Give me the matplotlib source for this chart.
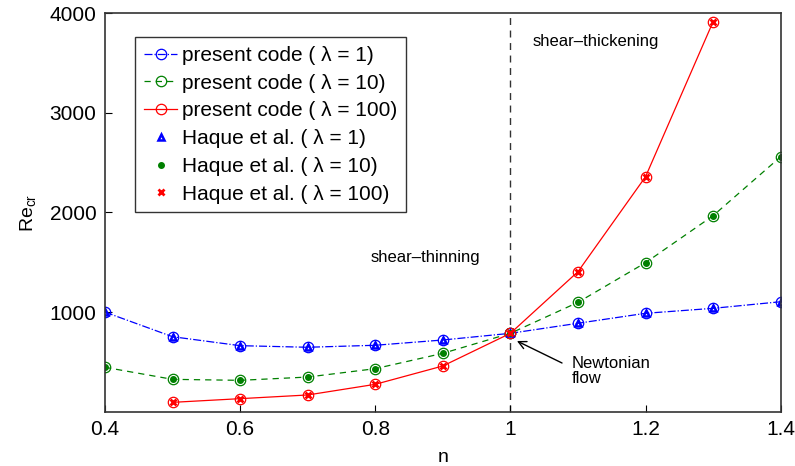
import matplotlib
matplotlib.use("Agg")
import matplotlib.pyplot as plt

plt.rcParams['font.family'] = ['Liberation Sans', 'DejaVu Sans']

n_vals = [0.4, 0.5, 0.6, 0.7, 0.8, 0.9, 1.0, 1.1, 1.2, 1.3, 1.4]
re_lam1 = [1000, 753, 663, 647, 667, 720, 787, 888, 988, 1038, 1104]
re_lam10 = [446, 325, 315, 348, 432, 586, 787, 1098, 1496, 1968, 2560]
n_lam100 = [0.5, 0.6, 0.7, 0.8, 0.9, 1.0, 1.1, 1.2, 1.3]
re_lam100 = [94, 131, 168, 275, 459, 787, 1406, 2359, 3916]

xticks = [0.4, 0.6, 0.8, 1.0, 1.2, 1.4]
xtick_labels = ['0.4', '0.6', '0.8', '1', '1.2', '1.4']
yticks = [1000, 2000, 3000, 4000]

fig = plt.figure(figsize=(7.95, 4.66), dpi=100)
ax = fig.add_axes([0.132, 0.1165, 0.850, 0.855])

blue, green, red = '#0000ff', '#008000', '#ff0000'
circ = dict(marker='o', markersize=7.5, markerfacecolor='none', markeredgewidth=0.9)

ax.plot(n_vals, re_lam1, color=blue, linestyle='-.', linewidth=0.9,
        markeredgecolor=blue, label='present code ( λ = 1)', **circ)
ax.plot(n_vals, re_lam10, color=green, linestyle=(0, (5, 4)), linewidth=0.9,
        markeredgecolor=green, label='present code ( λ = 10)', **circ)
ax.plot(n_lam100, re_lam100, color=red, linestyle='-', linewidth=0.9,
        markeredgecolor=red, label='present code ( λ = 100)', **circ)

ax.plot(n_vals, re_lam1, linestyle='none', marker='^', markersize=5,
        markerfacecolor='none', markeredgecolor=blue, markeredgewidth=1.8,
        label='Haque et al. ( λ = 1)')
ax.plot(n_vals, re_lam10, linestyle='none', marker='o', markersize=4,
        markerfacecolor=green, markeredgecolor=green,
        label='Haque et al. ( λ = 10)')
ax.plot(n_lam100, re_lam100, linestyle='none', marker='x', markersize=4,
        markeredgecolor=red, markeredgewidth=2,
        label='Haque et al. ( λ = 100)')

ax.axvline(1.0, color='#333333', linestyle=(0, (5, 4)), linewidth=1.0, zorder=1)

ax.set_xlim(0.4, 1.4)
ax.set_ylim(0, 4000)
ax.set_xticks(xticks)
ax.set_xticklabels(xtick_labels)
ax.set_yticks(yticks)
ax.tick_params(direction='in', length=5, labelsize=15, width=0.8,
               top=False, right=False, pad=6)
for s in ax.spines.values():
    s.set_linewidth(1.2)
    s.set_color('#333333')

ax.set_xlabel('n', fontsize=14, labelpad=7)
ax.set_ylabel('Re$_{\\mathregular{cr}}$', fontsize=14, labelpad=8)

ax.text(0.874, 1553, 'shear\u2013thinning', fontsize=12, ha='center', va='center')
ax.text(1.127, 3712, 'shear\u2013thickening', fontsize=12, ha='center', va='center')
ax.text(1.091, 409, 'Newtonian\nflow', fontsize=12, ha='left', va='center',
        linespacing=1.05)
ax.annotate('', xy=(1.0097, 710), xytext=(1.0764, 489),
            arrowprops=dict(arrowstyle='->', color='black', lw=1.0,
                            shrinkA=0, shrinkB=0, mutation_scale=14))

leg = ax.legend(loc='upper left', bbox_to_anchor=(0.045, 0.94), fontsize=15,
                frameon=True, fancybox=False, edgecolor='black',
                handlelength=1.6, handletextpad=0.2, borderpad=0.42,
                labelspacing=0.42, borderaxespad=0)
leg.get_frame().set_linewidth(1.0)

fig.savefig('out.png', dpi=100)
